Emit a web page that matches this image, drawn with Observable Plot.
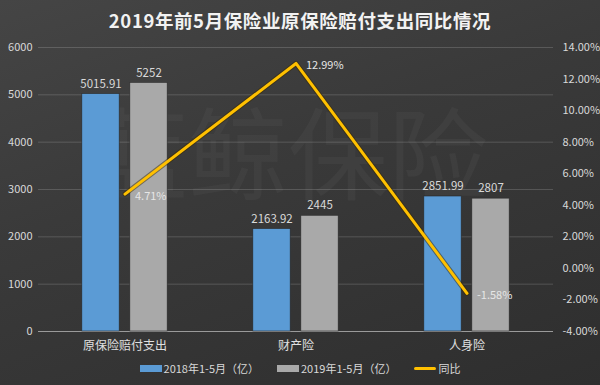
<!DOCTYPE html>
<html><head><meta charset="utf-8">
<script src="https://cdn.jsdelivr.net/npm/d3@7"></script>
<script src="https://cdn.jsdelivr.net/npm/@observablehq/plot@0.6"></script>
<style>
html,body{margin:0;padding:0;}
#wrap{position:relative;width:600px;height:385px;overflow:hidden;
 background:linear-gradient(160deg,#454545 0%,#3a3a3a 40%,#2e2e2e 100%);
 font-family:"Noto Sans CJK SC","Noto Sans",sans-serif;}
#title{position:absolute;top:7px;left:0;width:600px;text-align:center;color:#f2f2f2;font-weight:bold;font-size:18.5px;letter-spacing:0.6px;}
#legend{position:absolute;top:360px;left:0;width:600px;display:flex;justify-content:center;gap:0;color:#d9d9d9;font-size:11px;}
.it{display:flex;align-items:center;margin:0 9px;}
.sw{width:22px;height:7px;margin-right:2px;}
.ln{width:22px;height:3px;margin-right:2px;background:#ffc000;border-radius:2px;}
#chart{position:absolute;top:0;left:0;}
</style></head>
<body><div id="wrap"><div id="chart"></div><div id="title">2019年前5月保险业原保险赔付支出同比情况</div>
<div id="legend"></div></div>
<script>
const categories = ["原保险赔付支出","财产险","人身险"];
const seriesNames = ["2018年1-5月（亿）","2019年1-5月（亿）","同比"];
const values2018 = [5015.91, 2163.92, 2851.99];
const values2019 = [5252, 2445, 2807];
const yoyPct = [4.71, 12.99, -1.58];
const leftTicks = [0,1000,2000,3000,4000,5000,6000];
const rightTicks = [-4,-2,0,2,4,6,8,10,12,14];

const colors = ["#5b9bd5","#a9a9a9","#ffc000"];
const pMin = -4, pMax = 14, yMax = 6000;
const toLeft = p => (p - pMin) / (pMax - pMin) * yMax;
const toPct = v => v / yMax * (pMax - pMin) + pMin;

const W = 600, H = 385, mL = 38, mR = 47, mT = 47, mB = 54;
const bw = (W - mL - mR) / categories.length;
const barW = 38, gap = 10;
const d2018 = categories.map((c,i)=>({cat:c, v:values2018[i]}));
const d2019 = categories.map((c,i)=>({cat:c, v:values2019[i]}));
const line = categories.map((c,i)=>({cat:c, p:yoyPct[i], y:toLeft(yoyPct[i])}));
const off = gap/2 + barW/2;

const gridCol = "rgba(255,255,255,0.16)";
const plot = Plot.plot({
  width:W, height:H,
  marginTop:mT, marginBottom:mB, marginLeft:mL, marginRight:mR,
  style:{background:"transparent", color:"#d9d9d9", fontFamily:"'Noto Sans CJK SC','Noto Sans',sans-serif", fontSize:"11px"},
  x:{type:"band", domain:categories, padding:0, label:null},
  y:{domain:[0,yMax], label:null},
  marks:[
    Plot.text(["蓝鲸保险"],{frameAnchor:"middle", dx:-8, dy:-30, fontSize:100, fill:"#ffffff", fillOpacity:0.035}),
    Plot.gridY(leftTicks.slice(1),{stroke:gridCol, strokeOpacity:1}),
    Plot.ruleY([0],{stroke:"#9a9a9a"}),
    Plot.axisY({ticks:leftTicks, tickSize:0, tickPadding:6, tickFormat:d=>String(d), fontSize:11, fill:"#d9d9d9", label:null}),
    Plot.axisY({anchor:"right", ticks:rightTicks.map(toLeft), tickSize:0, tickPadding:9,
      tickFormat:d=>toPct(d).toFixed(2)+"%", textAnchor:"start", fontSize:11, fill:"#d9d9d9", label:null}),
    Plot.axisX({tickSize:0, tickPadding:10, fontSize:12, fill:"#e0e0e0", label:null}),
    Plot.barY(d2018,{x:"cat", y:"v", fill:colors[0], stroke:"#2a2a2a", strokeWidth:0.6,
      insetLeft: bw/2 - gap/2 - barW, insetRight: bw/2 + gap/2}),
    Plot.barY(d2019,{x:"cat", y:"v", fill:colors[1], stroke:"#2a2a2a", strokeWidth:0.6,
      insetLeft: bw/2 + gap/2, insetRight: bw/2 - gap/2 - barW}),
    Plot.text(d2018,{x:"cat", y:"v", text:d=>String(d.v), dx:-off, dy:-10, fill:"#d9d9d9", fontSize:11.5}),
    Plot.text(d2019,{x:"cat", y:"v", text:d=>String(d.v), dx:off, dy:-10, fill:"#d9d9d9", fontSize:11.5}),
    Plot.line(line,{x:"cat", y:"y", stroke:"#3a2a00", strokeWidth:5, strokeOpacity:0.5}),
    Plot.line(line,{x:"cat", y:"y", stroke:colors[2], strokeWidth:3}),
    Plot.text(line,{x:"cat", y:"y", text:d=>d.p.toFixed(2)+"%", dx:10, dy:2, textAnchor:"start", fill:"#e6e6e6", fontSize:11})
  ]
});
document.getElementById("chart").appendChild(plot);

const lg = document.getElementById("legend");
seriesNames.forEach((n,i)=>{
  const it=document.createElement("div"); it.className="it";
  const sw=document.createElement("div"); sw.className = i<2?"sw":"ln";
  if(i<2) sw.style.background=colors[i];
  it.appendChild(sw);
  const t=document.createElement("span"); t.textContent=n; it.appendChild(t);
  lg.appendChild(it);
});
</script></body></html>
